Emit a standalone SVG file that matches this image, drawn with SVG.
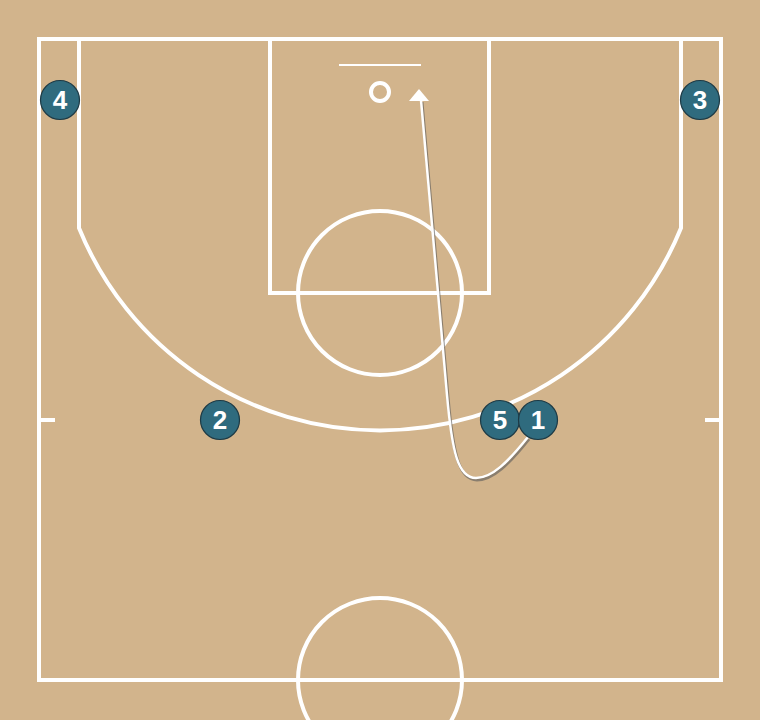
<svg xmlns="http://www.w3.org/2000/svg" width="760" height="720" viewBox="0 0 760 720">
<defs>
<style>
.line{fill:none;stroke:#ffffff;stroke-width:4}
.p circle{fill:#2f6b7e;stroke:#1d3a45;stroke-width:1.2}
.p text{fill:#ffffff;font-family:"Liberation Sans",Arial,sans-serif;font-weight:bold;font-size:26px;text-anchor:middle}
.mv{fill:none;stroke:#ffffff;stroke-width:2.5}
.sh{fill:none;stroke:#5a5a5a;stroke-width:3;opacity:0.6}
</style>
</defs>
<rect width="760" height="720" fill="#d2b48c"/>
<g id="court">
<rect class="line" x="39" y="39" width="682" height="641"/>
<rect class="line" x="270" y="39" width="219" height="254"/>
<circle class="line" cx="380" cy="293" r="82"/>
<circle class="line" cx="380" cy="92" r="9"/>
<line x1="339" y1="65" x2="421" y2="65" stroke="#ffffff" stroke-width="2"/>
<path class="line" d="M79,39 L79,228 A325,325 0 0 0 681,228 L681,39"/>
<circle class="line" cx="380" cy="680" r="82"/>
<line class="line" x1="39" y1="420" x2="55" y2="420"/>
<line class="line" x1="705" y1="420" x2="721" y2="420"/>
</g>
<g id="connectors">
<path class="sh" transform="translate(1,2)" d="M528,437 C508,462 492,478 476,478 C458,478 452,452 447,395 C441,320 430,210 421,100"/>
<path class="mv" d="M528,437 C508,462 492,478 476,478 C458,478 452,452 447,395 C441,320 430,210 421,100"/>
<polygon points="419,89 429,101 409,101" fill="#ffffff"/>
</g>
<g id="p4" class="p"><circle cx="60" cy="100" r="19.5"/><text x="60" y="109">4</text></g>
<g id="p3" class="p"><circle cx="700" cy="100" r="19.5"/><text x="700" y="109">3</text></g>
<g id="p2" class="p"><circle cx="220" cy="420" r="19.5"/><text x="220" y="429">2</text></g>
<g id="p5" class="p"><circle cx="500" cy="420" r="19.5"/><text x="500" y="429">5</text></g>
<g id="p1" class="p"><circle cx="538" cy="420" r="19.5"/><text x="538" y="429">1</text></g>
</svg>
